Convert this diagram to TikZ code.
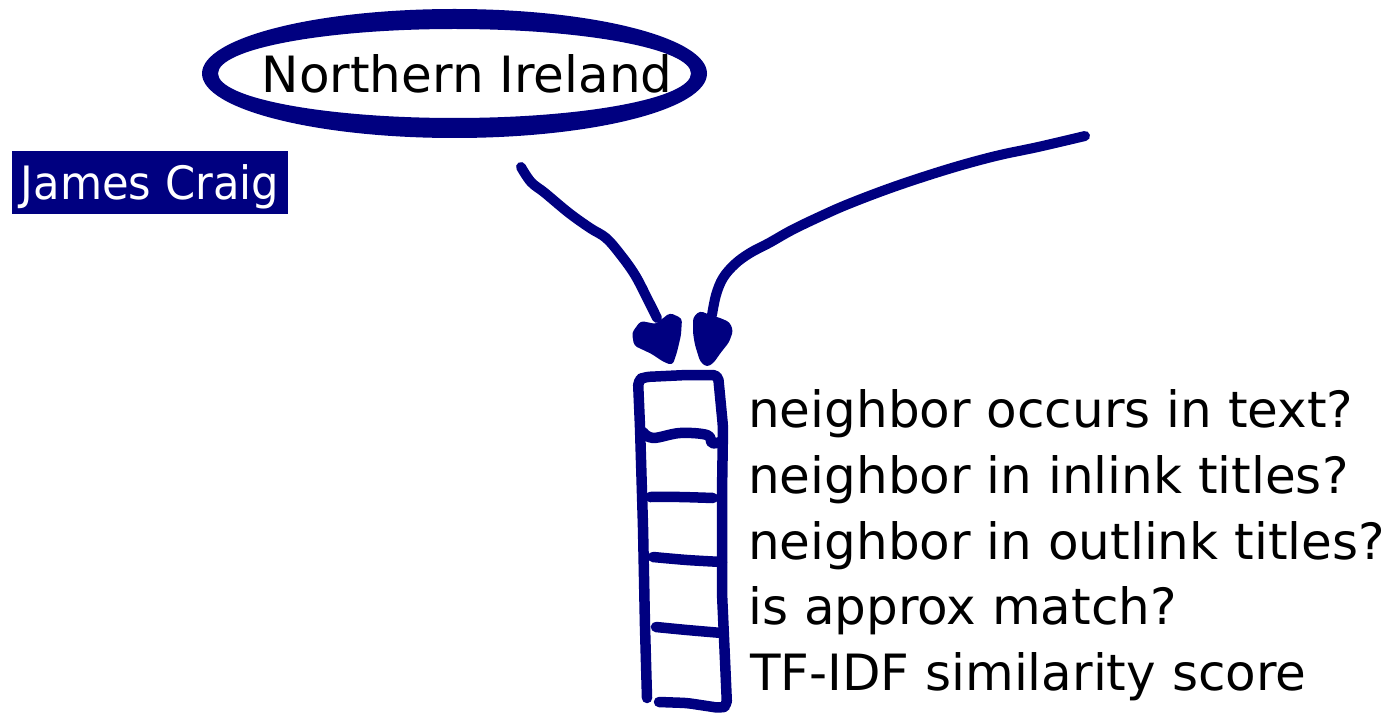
\documentclass[tikz,border=0pt]{standalone}
\usepackage{fontspec}
\setmainfont{DejaVu Sans}
\newfontfamily\jcfont[FakeStretch=0.94]{DejaVu Sans}
\definecolor{navy}{RGB}{0,0,128}
\begin{document}
\begin{tikzpicture}[x=1pt,y=-1pt,
  ink/.style={draw=navy, line width=10.5pt, line cap=round, line join=round},
  shaft/.style={draw=navy, line width=10pt, line cap=round, line join=round},
  lbl/.style={anchor=base west, inner sep=0pt, font=\fontsize{50}{60}\selectfont},
  head/.style={fill=navy, draw=navy, line width=2pt, line join=round, rounded corners=3pt}]
\useasboundingbox (0,0) rectangle (1388,714);
% ellipse ring
\fill[navy, even odd rule] (454.5,73.5) ellipse [x radius=252.5pt, y radius=64.5pt]
                           (454.5,73.5) ellipse [x radius=236.5pt, y radius=44.5pt];
\node[lbl] (ni) at (261.5,92.7) {Northern Ireland};
% James Craig
\node[fill=navy, text=white, inner sep=0pt, anchor=base, minimum width=275.4pt,
      text height=49.3pt, text depth=14pt, font=\fontsize{46}{55}\jcfont] (jc) at (150,200) {James Craig};
% feature labels
\node[lbl] (r1) at (748,427) {neighbor occurs in text?};
\node[lbl] (r2) at (748,493) {neighbor in inlink titles?};
\node[lbl] (r3) at (748,559) {neighbor in outlink titles?};
\node[lbl] (r4) at (748,624) {is approx match?};
\node[lbl] (r5) at (750,690) {TF-IDF similarity score};
% arrow coordinates
\coordinate (lstart) at (521,167);
\coordinate (lend) at (657,318);
\coordinate (rstart) at (1085,136);
\coordinate (rend) at (712,315);
% left arrow
\draw[shaft] plot[smooth, tension=0.6] coordinates {(lstart) (531,182) (545,193) (569,213) (590,228) (606,238) (620,254) (635,275) (648,300) (lend)};
\filldraw[head] (633,333) -- (641,322) -- (656,325) -- (670,314) -- (681,319) -- (680,335) -- (676,352) -- (672,364) -- (664,361) -- (652,353) -- (635,345) -- cycle;
% right arrow
\draw[shaft] plot[smooth, tension=0.6] coordinates {(rstart) (1038,147) (1000,155) (962,165) (923,177) (885,190) (846,205) (819,217) (792,230) (769,243) (750,253) (735,264) (723,278) (716,295) (rend)};
\filldraw[head] (694,318) -- (700,312) -- (710,316) -- (720,319) -- (729,323) -- (732,331) -- (728,342) -- (720,352) -- (713,362) -- (707,366) -- (701,361) -- (696,345) -- (694,333) -- cycle;
% feature vector box
\draw[ink, rounded corners=5pt] (647,698) -- (645,627) -- (643,527) -- (640,427) -- (638,380) -- (645,377) -- (687,375) -- (718,375)
   -- (723,427) -- (722,493) -- (722,593) -- (725,660) -- (727,706) -- (720,708) -- (687,703) -- (659,702);
\draw[ink] plot[smooth, tension=0.6] coordinates {(643,432) (653,438) (680,433) (707,435) (712,443) (720,442)};
\draw[ink] plot[smooth] coordinates {(650,497) (680,497) (713,498)};
\draw[ink] plot[smooth] coordinates {(653,557) (687,560) (722,562)};
\draw[ink] plot[smooth] coordinates {(656,627) (687,630) (722,633)};
\end{tikzpicture}
\end{document}
